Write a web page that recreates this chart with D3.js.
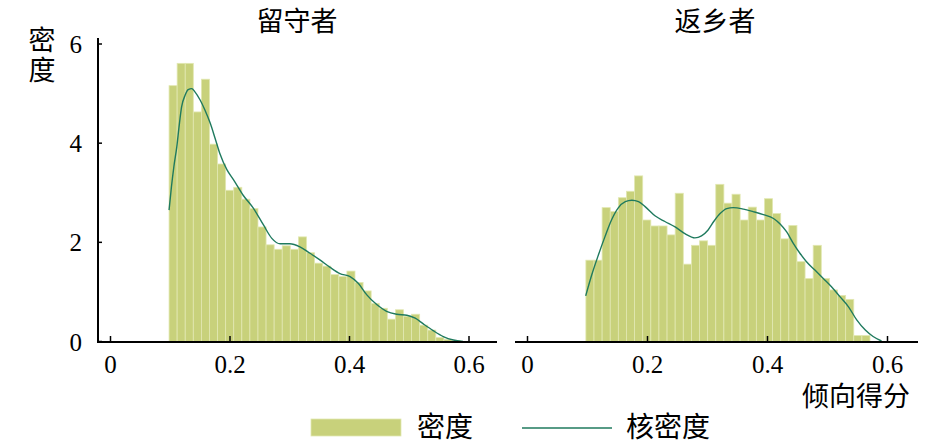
<!DOCTYPE html>
<html><head><meta charset="utf-8">
<script src="https://cdn.jsdelivr.net/npm/d3@7"></script>
<style>body{margin:0;background:#fff}svg{display:block}</style>
</head><body>
<svg id="c" width="945" height="444"></svg>
<script>
const panelTitles = ["留守者", "返乡者"];
const xTicks = [0, 0.2, 0.4, 0.6];
const yTicks = [0, 2, 4, 6];
const yLabel = "密度";
const xLabel = "倾向得分";
const legendLabels = ["密度", "核密度"];

const binWidth = 0.01353;
const binStartL = 0.098;
const binStartR = 0.0973;
const histL = [5.16,5.61,5.61,4.63,5.29,3.98,3.58,3.05,3.11,2.87,2.68,2.31,1.95,1.86,1.93,1.86,2.11,1.79,1.58,1.52,1.35,1.31,1.42,1.19,1.02,0.77,0.67,0.45,0.64,0.51,0.55,0.33,0.23,0.08,0.04,0.02];
const histR = [1.64,1.64,2.70,2.62,2.90,3.03,3.34,2.45,2.33,2.33,2.15,2.99,1.56,1.94,2.03,1.94,3.17,2.79,2.97,2.45,2.71,2.45,2.88,2.58,2.07,2.34,1.61,1.27,1.94,1.27,1.04,0.93,0.85,0.12,0.12];

const kdeXL = [0.098,0.102,0.106,0.111,0.115,0.119,0.125,0.130,0.136,0.141,0.150,0.158,0.167,0.175,0.183,0.195,0.206,0.222,0.239,0.256,0.270,0.284,0.300,0.317,0.334,0.351,0.367,0.384,0.401,0.415,0.429,0.446,0.462,0.479,0.496,0.510,0.524,0.540,0.557,0.574,0.590];
const kdeYL = [2.65,3.12,3.52,3.93,4.36,4.73,4.97,5.08,5.10,5.04,4.87,4.67,4.40,4.10,3.79,3.46,3.26,2.95,2.69,2.35,2.08,1.97,1.97,1.91,1.78,1.64,1.50,1.37,1.31,1.17,0.94,0.74,0.61,0.55,0.53,0.47,0.35,0.22,0.10,0.03,0.0];
const kdeXR = [0.097,0.107,0.118,0.129,0.140,0.151,0.163,0.174,0.185,0.196,0.213,0.229,0.246,0.263,0.279,0.290,0.301,0.311,0.321,0.332,0.343,0.360,0.376,0.393,0.410,0.421,0.432,0.443,0.454,0.465,0.479,0.493,0.507,0.521,0.535,0.549,0.563,0.576,0.590];
const kdeYR = [0.92,1.34,1.74,2.11,2.45,2.69,2.82,2.85,2.82,2.72,2.53,2.42,2.31,2.17,2.09,2.13,2.25,2.43,2.58,2.68,2.70,2.67,2.62,2.56,2.48,2.37,2.21,1.98,1.78,1.61,1.44,1.27,1.10,0.90,0.70,0.43,0.23,0.10,0.01];

const barFill = "#c8d17b", barStroke = "#e2e8b2", lineColor = "#1f7a5e";
const numFont = "'Liberation Serif','Times New Roman',serif";
const cjkFont = "'Noto Sans CJK SC','Noto Sans CJK JP',sans-serif";

const svg = d3.select("#c");
const y = d3.scaleLinear().domain([0, 6]).range([341.5, 44]);

const panels = [
  {title: panelTitles[0], x: d3.scaleLinear().domain([0, 0.6]).range([110.5, 469]), hist: histL, start: binStartL, kx: kdeXL, ky: kdeYL, axisFrom: 98, axisTo: 497, yAxis: true, titleX: 297},
  {title: panelTitles[1], x: d3.scaleLinear().domain([0, 0.6]).range([527.5, 887.5]), hist: histR, start: binStartR, kx: kdeXR, ky: kdeYR, axisFrom: 515, axisTo: 918, yAxis: false, titleX: 715}
];

panels.forEach(p => {
  const g = svg.append("g");
  const bins = p.hist.map((h, i) => ({x0: p.start + i * binWidth, x1: p.start + (i + 1) * binWidth, h}));
  g.selectAll("rect.bar").data(bins).enter().append("rect")
    .attr("class", "bar")
    .attr("x", d => p.x(d.x0))
    .attr("width", d => p.x(d.x1) - p.x(d.x0))
    .attr("y", d => y(d.h))
    .attr("height", d => y(0) - y(d.h))
    .attr("fill", barFill)
    .attr("stroke", barStroke)
    .attr("stroke-width", 0.8);

  const pts = p.kx.map((v, i) => [v, p.ky[i]]);
  g.append("path")
    .attr("d", d3.line().x(d => p.x(d[0])).y(d => y(d[1])).curve(d3.curveMonotoneX)(pts))
    .attr("fill", "none")
    .attr("stroke", lineColor)
    .attr("stroke-width", 1.4);

  g.append("line").attr("x1", p.axisFrom).attr("x2", p.axisTo).attr("y1", 342).attr("y2", 342)
    .attr("stroke", "#000").attr("stroke-width", 2);
  g.selectAll("line.xt").data(xTicks).enter().append("line")
    .attr("x1", d => p.x(d)).attr("x2", d => p.x(d)).attr("y1", 342).attr("y2", 336)
    .attr("stroke", "#000").attr("stroke-width", 1.5);
  g.selectAll("text.xl").data(xTicks).enter().append("text")
    .attr("x", d => p.x(d)).attr("y", 373)
    .attr("text-anchor", "middle")
    .attr("font-family", numFont).attr("font-size", 25)
    .text(d => d === 0 ? "0" : d3.format(".1f")(d));

  if (p.yAxis) {
    g.append("line").attr("x1", p.axisFrom).attr("x2", p.axisFrom).attr("y1", 38).attr("y2", 343)
      .attr("stroke", "#000").attr("stroke-width", 2);
    g.selectAll("line.yt").data(yTicks).enter().append("line")
      .attr("x1", p.axisFrom).attr("x2", p.axisFrom + 4).attr("y1", d => y(d)).attr("y2", d => y(d))
      .attr("stroke", "#000").attr("stroke-width", 1.5);
    g.selectAll("text.yl").data(yTicks).enter().append("text")
      .attr("x", 82).attr("y", d => y(d) + 9)
      .attr("text-anchor", "end")
      .attr("font-family", numFont).attr("font-size", 25)
      .text(d => d);
  }

  g.append("text").attr("x", p.titleX).attr("y", 31).attr("text-anchor", "middle")
    .attr("font-family", cjkFont).attr("font-size", 27).text(p.title);
});

// y label stacked vertically, one text per character
svg.selectAll("text.ylab").data(yLabel.split("")).enter().append("text")
  .attr("class", "ylab")
  .attr("font-family", cjkFont).attr("font-size", 27).attr("text-anchor", "middle")
  .attr("x", 42).attr("y", (d, i) => 50 + i * 30).text(d => d);

svg.append("text").attr("x", 856).attr("y", 406).attr("text-anchor", "middle")
  .attr("font-family", cjkFont).attr("font-size", 27).text(xLabel);

// legend
svg.append("rect").attr("x", 311).attr("y", 419).attr("width", 90).attr("height", 17)
  .attr("fill", barFill).attr("stroke", barStroke).attr("stroke-width", 0.8);
svg.append("text").attr("x", 417).attr("y", 437).attr("font-family", cjkFont).attr("font-size", 28).text(legendLabels[0]);
svg.append("line").attr("x1", 522).attr("x2", 612).attr("y1", 428).attr("y2", 428)
  .attr("stroke", lineColor).attr("stroke-width", 1.4);
svg.append("text").attr("x", 626).attr("y", 437).attr("font-family", cjkFont).attr("font-size", 28).text(legendLabels[1]);
</script>
</body></html>
